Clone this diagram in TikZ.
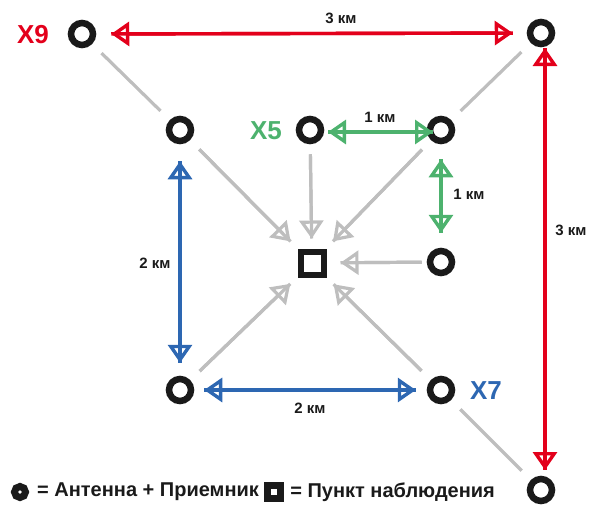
\documentclass[tikz,border=0pt]{standalone}
\usepackage{fontspec}
\setmainfont{Liberation Sans}
\usetikzlibrary{arrows.meta}

\definecolor{kred}{HTML}{E3001B}
\definecolor{kgreen}{HTML}{4DB26E}
\definecolor{kblue}{HTML}{2D67B2}
\definecolor{kgrey}{HTML}{BEBEBE}
\definecolor{kblack}{HTML}{1A1A1A}

\tikzset{
	ant/.style={circle,draw=kblack,line width=6.5pt,minimum size=22pt,inner sep=0pt},
	post/.style={rectangle,draw=kblack,line width=6pt,minimum size=23pt,inner sep=0pt},
	link/.style={kgrey,line width=3.2pt,shorten <=13pt,shorten >=13pt},
	feed/.style={kgrey,line width=3.2pt,-{Triangle[open,width=24pt,length=18pt]},postaction={draw,-}},
	dist/.style={line width=3.4pt,{Triangle[open,width=24pt,length=18pt]}-{Triangle[open,width=24pt,length=18pt]},postaction={draw,-}},
	tag/.style={font=\bfseries\fontsize{26}{26}\selectfont},
	km/.style={font=\bfseries\fontsize{15}{15}\selectfont,text=kblack},
	legend/.style={font=\bfseries\fontsize{20}{20}\selectfont,text=kblack,anchor=west,inner sep=0pt}
}

\begin{document}
\begin{tikzpicture}[x=1pt,y=-1pt]
	\useasboundingbox (0,0) rectangle (597,504);

	% outer square
	\node[ant] (nw) at (82,34) {};
	\node[ant] (ne) at (541,33) {};
	\node[ant] (se) at (541,490) {};
	% inner square
	\node[ant] (tl) at (180,130) {};
	\node[ant] (tm) at (310,130) {};
	\node[ant] (tr) at (441,130) {};
	\node[ant] (mr) at (441,262) {};
	\node[ant] (bl) at (180,390) {};
	\node[ant] (br) at (441,390) {};
	\node[post] (obs) at (312,263) {};

	\node[tag,text=kred] at (33,35) {X9};
	\node[tag,text=kgreen] at (266,131) {X5};
	\node[tag,text=kblue] at (486,391) {X7};

	% grey links
	\draw[link] (nw) -- (tl);
	\draw[link] (ne) -- (tr);
	\draw[link] (se) -- (br);
	\draw[feed,shorten <=13pt,shorten >=10pt] (tl) -- (obs);
	\draw[feed,shorten <=10pt,shorten >=10pt] (tm) -- (obs);
	\draw[feed,shorten <=13pt,shorten >=10pt] (tr) -- (obs);
	\draw[feed,shorten <=5pt,shorten >=14pt] (mr) -- (obs);
	\draw[feed,shorten <=13pt,shorten >=10pt] (bl) -- (obs);
	\draw[feed,shorten <=13pt,shorten >=10pt] (br) -- (obs);

	% distances
	\draw[dist,kred,shorten <=15pt,shorten >=14pt] (nw) -- (ne);
	\node[km] at (341,18) {3 км};
	\draw[dist,kred,shorten <=15pt,shorten >=20pt] ([xshift=4pt]ne.center) -- ([xshift=4pt]se.center);
	\node[km] at (571,230) {3 км};
	\draw[dist,kblue,shorten <=17pt,shorten >=13pt] (tl) -- (bl);
	\node[km] at (155,263) {2 км};
	\draw[dist,kblue,shorten <=10pt,shorten >=11pt] (bl) -- (br);
	\node[km] at (310,408) {2 км};
	\draw[dist,kgreen,shorten <=18pt,shorten >=8pt] ([yshift=-2pt]tm.center) -- ([yshift=-2pt]tr.center);
	\node[km] at (380,117) {1 км};
	\draw[dist,kgreen,shorten <=15pt,shorten >=15pt] (tr) -- (mr);
	\node[km] at (469,194) {1 км};

	% legend
	\node[circle,draw=kblack,line width=7pt,minimum size=11pt,inner sep=0pt] (lant) at (20,492) {};
	\node[legend] (ltxt) at (37,492) {= Антенна + Приемник};
	\node[rectangle,draw=kblack,fill=white,line width=7pt,minimum size=13pt,inner sep=0pt] (lpost) at ([xshift=15pt]ltxt.east) {};
	\node[legend] at ([xshift=6pt]lpost.east) {= Пункт наблюдения};
\end{tikzpicture}
\end{document}
